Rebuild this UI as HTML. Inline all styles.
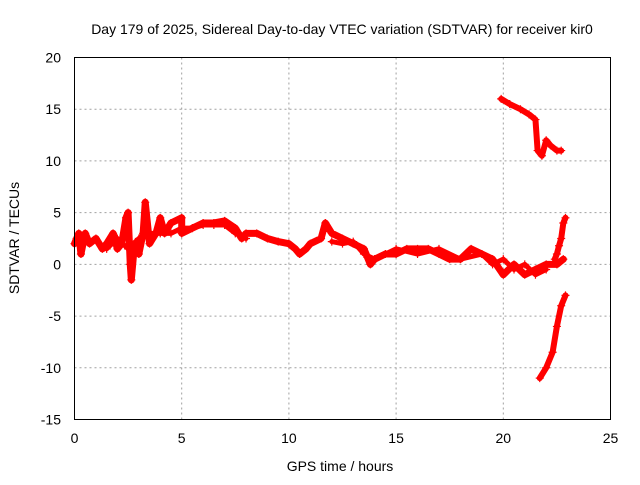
<!DOCTYPE html>
<html><head><meta charset="utf-8"><style>
body{margin:0;background:#fff;}
svg text{font-family:"Liberation Sans",sans-serif;font-size:14px;fill:#000;}
</style></head><body>
<svg width="640" height="480" xmlns="http://www.w3.org/2000/svg">
<rect width="640" height="480" fill="#fff"/>
<g id="grid"></g>
<g id="axes"></g>
<g id="series"></g>
<rect x="74.5" y="57.5" width="536" height="362" fill="none" stroke="#000" stroke-width="1"/>
<text x="342" y="34" text-anchor="middle">Day 179 of 2025, Sidereal Day-to-day VTEC variation (SDTVAR) for receiver kir0</text>
<text x="340" y="471" text-anchor="middle">GPS time / hours</text>
<text transform="translate(19,238) rotate(-90)" text-anchor="middle">SDTVAR / TECUs</text>
</svg>
<script>
const xTicks=[0,5,10,15,20,25];
const yTicks=[-15,-10,-5,0,5,10,15,20];
const mainHours=[0,0.1,0.2,0.3,0.5,0.7,1,1.3,1.5,1.8,2,2.2,2.4,2.5,2.6,2.65,2.8,3,3.2,3.3,3.5,3.8,4,4.2,4.5,5,5,5.5,6,6.5,7,7.5,7.8,8,8.5,9,9.5,10,10.3,10.5,10.8,11,11.5,11.7,12,12.5,13,13.5,13.8,14,14.5,15,15.5,16,16.5,17,17.5,18,18.5,19,19.5,20,20.5,21,21.5,22,22.5,22.8];
const mainVals=[2,2.5,3,1,3,2,2.5,1.5,2,3,1.5,2,4.5,5,0,-1.5,2,1,3,6,2,3,4.5,3,4,4.5,3,3.5,4,4,4.2,3.5,2.5,3,3,2.5,2.2,2,1.5,1,1.5,2,2.5,4,3,2.5,2,1.5,0,0.5,1,1,1.5,1.5,1.5,1,0.5,0.5,1.5,1,0.5,-1,0,-1,-0.5,0,0,0.5];
const lowHoursA=[1.5,2,2.5,3,3.5,4,4.5,5,5.5,6,6.5,7,7.5,8];
const lowValsA=[1.5,2.5,1.5,2.5,3,3,3,3.5,3.5,3.8,3.8,3.8,3,2.5];
const lowHoursB=[12,12.5,13,13.5,14,15,16,17,18,19,19.5,20,20.5,21,21.5,22];
const lowValsB=[2.2,2,2.2,1,0.5,1.5,1,1.5,0.5,1,0,0.5,-0.5,0,-1,-0.5];
const riseHours=[22.4,22.5,22.6,22.7,22.8,22.9];
const riseVals=[0.5,1,1.8,2.5,4,4.5];
const upperHours=[19.9,20.3,20.8,21.2,21.5,21.6,21.8,22,22.2,22.5,22.7];
const upperVals=[16,15.5,15,14.5,14,11,10.5,12,11.5,11,11];
const lowerHours=[21.7,22,22.3,22.5,22.7,22.9];
const lowerVals=[-11,-10,-8.5,-6,-4,-3];
const X0=74.5,X1=610.5,Y0=419.5,Y1=57.5;
const xs=h=>X0+(h-0)/(25-0)*(X1-X0);
const ys=v=>Y0-(v+15)/(35)*(Y0-Y1);
const NS='http://www.w3.org/2000/svg';
const grid=document.getElementById('grid'),axes=document.getElementById('axes'),ser=document.getElementById('series');
function mk(t,a,p){const e=document.createElementNS(NS,t);for(const k in a)e.setAttribute(k,a[k]);p.appendChild(e);return e;}
xTicks.forEach(t=>{const x=xs(t);
 if(t>0&&t<25){const g=mk('line',{x1:x,x2:x,y1:Y0,y2:Y1,stroke:'#a0a0a0','stroke-dasharray':'2,3'},grid);
 
 }
 const l=mk('text',{x:x,y:443,'text-anchor':'middle'},axes);l.textContent=t;
 
 });
yTicks.forEach(t=>{const y=ys(t);
 if(t>-15&&t<20){const g=mk('line',{x1:X0,x2:X1,y1:y,y2:y,stroke:'#a0a0a0','stroke-dasharray':'2,3'},grid);
 
 }
 const l=mk('text',{x:61,y:y+5,'text-anchor':'end'},axes);l.textContent=t;
 
 });
function draw(hs,vs,name,w){
 const pts=hs.map((h,i)=>xs(h)+','+ys(vs[i])).join(' ');
 const pl=mk('polyline',{points:pts,fill:'none',stroke:'#f00','stroke-width':w,'stroke-linejoin':'round','stroke-linecap':'round'},ser);
 
 
 hs.forEach((h,i)=>{const x=xs(h),y=ys(vs[i]);
  const p=mk('path',{d:`M${x-4},${y}H${x+4}M${x},${y-4}V${y+4}`,stroke:'#f00','stroke-width':1.2},ser);
  
  });
}
draw(lowHoursA,lowValsA,'secondary-early',5);
draw(lowHoursB,lowValsB,'secondary-late',5);
draw(mainHours,mainVals,'main',7);
draw(riseHours,riseVals,'rise',6);
draw(upperHours,upperVals,'upper',6);
draw(lowerHours,lowerVals,'lower',6);
</script>
</body></html>
